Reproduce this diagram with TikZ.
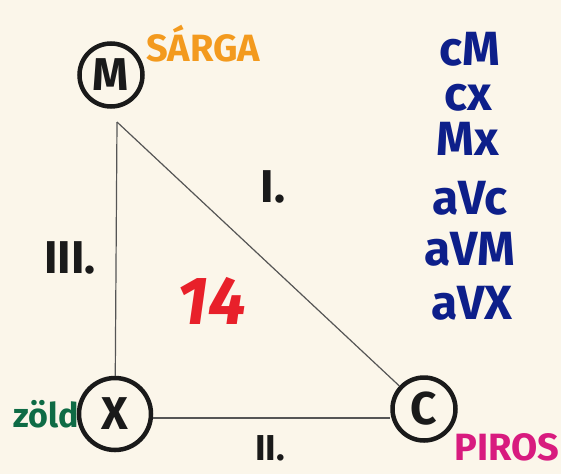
\documentclass[tikz,border=0pt]{standalone}
\usepackage{fontspec}
\setmainfont{Fira Sans}
\usepackage{xcolor}
\usetikzlibrary{positioning}

\definecolor{paper}{HTML}{FBF6EA}
\definecolor{ink}{HTML}{1A1A1A}
\definecolor{pen}{HTML}{555555}
\definecolor{kek}{HTML}{0D1F8A}
\definecolor{narancs}{HTML}{F39A1E}
\definecolor{voros}{HTML}{E8202A}
\definecolor{zold}{HTML}{0E6B45}
\definecolor{rozsa}{HTML}{D81B7F}

\begin{document}
\begin{tikzpicture}[
    x=1pt, y=-1pt,
    vertex/.style={circle, draw=ink, line width=4.5pt, minimum size=63pt, inner sep=0pt,
      font=\fontsize{46}{46}\selectfont\bfseries, text=ink},
    edge/.style={draw=pen, line width=1.2pt},
    numeral/.style={font=\fontsize{46}{46}\selectfont\bfseries, text=ink},
    colour/.style={font=\fontsize{38}{38}\selectfont\bfseries},
    rule/.style={font=\fontsize{48}{48}\selectfont\bfseries, text=kek, inner sep=0pt,
      text height=0.7em, text depth=0pt},
  ]
  \fill[paper] (0,0) rectangle (561,474);
  \useasboundingbox (0,0) rectangle (561,474);

  % vertices
  \node[vertex] (M) at (111,75) {M};
  \node[vertex, minimum height=72pt] (X) at (115,414) {X};
  \node[vertex] (C) at (424,409) {C};
  \coordinate (m0) at (117,122);

  % edges
  \draw[edge] (m0) -- (C);
  \draw[edge] (m0) -- (X);
  \draw[edge] (X.east |- 0,418) -- (C.west |- 0,418);

  \node[numeral] (e1) at (273,187) {I.};
  \node[numeral, font=\fontsize{36}{36}\selectfont\bfseries] (e2) at (270,448) {II.};
  \node[numeral] (e3) at (70,258) {III.};
  \node[font=\fontsize{68}{68}\selectfont\bfseries\itshape, text=voros] (n) at (212,301) {14};

  % colours
  \node[colour, text=narancs] (sarga) at (203,44) {SÁRGA};
  \node[colour, text=zold, font=\fontsize{34}{34}\selectfont\bfseries] (zld) at (46,414) {zöld};
  \node[colour, text=rozsa] (piros) at (507,447) {PIROS};

  % rules
  \node[rule] (r1) at (470,62) {cM};
  \node[rule] (r2) at (468,107) {cx};
  \node[rule] (r3) at (468,152) {Mx};
  \node[rule] (r4) at (470,211) {aVc};
  \node[rule] (r5) at (470,262) {aVM};
  \node[rule] (r6) at (472,316) {aVX};
\end{tikzpicture}
\end{document}
